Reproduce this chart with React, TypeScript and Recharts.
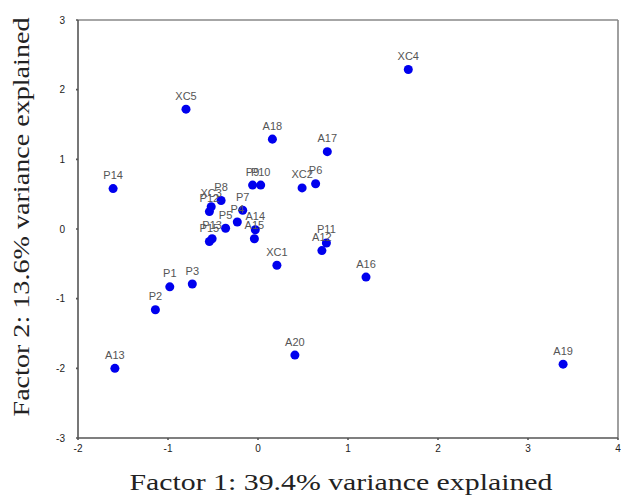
import { ScatterChart, Scatter, XAxis, YAxis, ReferenceLine, LabelList, Label } from 'recharts';

// observation names with their two factor scores
const names = [
    'A12', 'A13', 'A14', 'A15', 'A16', 'A17', 'A18', 'A19', 'A20',
    'P1', 'P2', 'P3', 'P4', 'P5', 'P6', 'P7', 'P8', 'P9', 'P10', 'P11', 'P12', 'P13', 'P14', 'P15',
    'XC1', 'XC2', 'XC3', 'XC4', 'XC5',
];
const factor1 = [
    0.71, -1.59, -0.03, -0.04, 1.20, 0.77, 0.16, 3.39, 0.41,
    -0.98, -1.14, -0.73, -0.23, -0.36, 0.64, -0.17, -0.41, -0.06, 0.03, 0.76, -0.54, -0.51, -1.61, -0.54,
    0.21, 0.49, -0.52, 1.67, -0.80,
];
const factor2 = [
    -0.31, -2.00, -0.01, -0.14, -0.69, 1.11, 1.29, -1.94, -1.81,
    -0.83, -1.16, -0.79, 0.10, 0.01, 0.65, 0.27, 0.41, 0.63, 0.63, -0.20, 0.25, -0.14, 0.58, -0.18,
    -0.52, 0.59, 0.32, 2.29, 1.72,
];
const xTicks = [-2, -1, 0, 1, 2, 3, 4];
const yTicks = [-3, -2, -1, 0, 1, 2, 3];

const points = names.map((name, i) => ({ name, x: factor1[i], y: factor2[i] }));

const tickStyle = { fontSize: 10, fontFamily: 'Liberation Sans', fill: '#222' };

const XTitle = () => (
    <text x={341} y={490} textAnchor="middle" fontFamily="Liberation Serif" fontSize={23} fill="#222"
        textLength={423} lengthAdjust="spacingAndGlyphs">
        Factor 1:  39.4% variance explained
    </text>
);

const YTitle = () => (
    <text x={29} y={217} textAnchor="middle" fontFamily="Liberation Serif" fontSize={23} fill="#222"
        transform="rotate(-90 29 217)" textLength={399} lengthAdjust="spacingAndGlyphs">
        Factor 2: 13.6% variance explained
    </text>
);

export default function App() {
    return (
        <div style={{ width: 621, height: 498, background: '#fff' }}>
            <style>{'body{margin:0}'}</style>
            <ScatterChart width={621} height={498} margin={{ top: 20, right: 3, bottom: 0, left: 0 }}>
                <XAxis
                    type="number"
                    dataKey="x"
                    domain={[-2, 4]}
                    ticks={xTicks}
                    height={60}
                    stroke="#555"
                    strokeWidth={1.6}
                    tickSize={2}
                    tickMargin={5}
                    tick={tickStyle}>
                    <Label content={XTitle} />
                </XAxis>
                <YAxis
                    type="number"
                    dataKey="y"
                    domain={[-3, 3]}
                    ticks={yTicks}
                    width={78}
                    stroke="#555"
                    strokeWidth={1.6}
                    tickSize={2}
                    tickMargin={11}
                    tick={tickStyle}>
                    <Label content={YTitle} />
                </YAxis>
                <ReferenceLine y={3} stroke="#888" strokeWidth={1.6} />
                <ReferenceLine x={4} stroke="#888" strokeWidth={1.6} />
                <Scatter data={points} fill="#0000ee" isAnimationActive={false}>
                    <LabelList dataKey="name" position="top" offset={5} fill="#555" fontSize={11} fontFamily="Liberation Sans" />
                </Scatter>
            </ScatterChart>
        </div>
    );
}
